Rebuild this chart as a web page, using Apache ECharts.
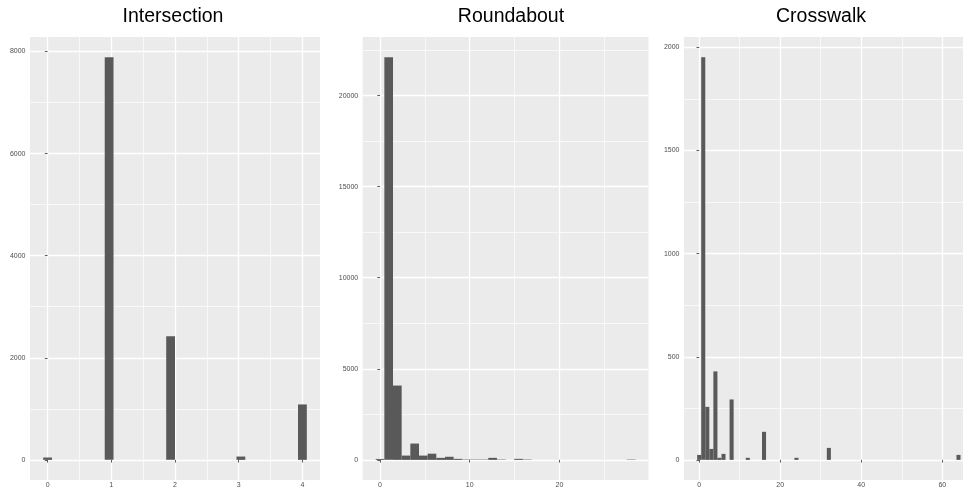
<!DOCTYPE html>
<html>
<head>
<meta charset="utf-8">
<script src="https://cdn.jsdelivr.net/npm/echarts@6/dist/echarts.min.js"></script>
<style>
  html, body { margin: 0; padding: 0; background: #ffffff; }
  #chart { width: 963px; height: 495px; }
</style>
</head>
<body>
<div id="chart"></div>
<script>
// Panel titles
const panelTitles = ['Intersection', 'Roundabout', 'Crosswalk'];

// Intersection: histogram bin centres and counts
const intersectionBins = [0, 0.966, 1.931, 3.034, 4];
const intersectionCounts = [46, 7890, 2420, 65, 1086];
const intersectionBinWidth = 0.138;
const intersectionXTicks = [0, 1, 2, 3, 4];
const intersectionYTicks = [0, 2000, 4000, 6000, 8000];

// Roundabout: histogram bin centres and counts (empty bins omitted)
const roundaboutBins = [0, 0.966, 1.931, 2.897, 3.862, 4.828, 5.793, 6.759, 7.724,
  8.690, 9.655, 10.621, 11.586, 12.552, 13.517, 15.448, 16.414, 28.0];
const roundaboutCounts = [50, 22110, 4080, 235, 895, 235, 340, 110, 170,
  55, 20, 20, 20, 110, 20, 55, 20, 20];
const roundaboutBinWidth = 0.9655;
const roundaboutXTicks = [0, 10, 20];
const roundaboutYTicks = [0, 5000, 10000, 15000, 20000];

// Crosswalk: histogram bin centres and counts (empty bins omitted)
const crosswalkBins = [0, 1, 2, 3, 4, 5, 6, 8, 12, 16, 24, 32, 64];
const crosswalkCounts = [24, 1953, 257, 53, 429, 10, 29, 293, 10, 136, 10, 58, 24];
const crosswalkBinWidth = 1;
const crosswalkXTicks = [0, 20, 40, 60];
const crosswalkYTicks = [0, 500, 1000, 1500, 2000];

// Panel rectangles; `full` is the panel's natural width, the drawn part may be cut by the page edge
const panels = [
  { bins: intersectionBins, counts: intersectionCounts, w: intersectionBinWidth,
    xTicks: intersectionXTicks, yTicks: intersectionYTicks,
    grid: { left: 30, top: 37, width: 290, height: 443 }, full: 290, titleX: 173, split: 5 },
  { bins: roundaboutBins, counts: roundaboutCounts, w: roundaboutBinWidth,
    xTicks: roundaboutXTicks, yTicks: roundaboutYTicks,
    grid: { left: 362.7, top: 37, width: 285.8, height: 443 }, full: 285.8, titleX: 511, split: 3 },
  { bins: crosswalkBins, counts: crosswalkCounts, w: crosswalkBinWidth,
    xTicks: crosswalkXTicks, yTicks: crosswalkYTicks,
    grid: { left: 684, top: 37, width: 279, height: 443 }, full: 289.7, titleX: 821, split: 4 }
];

const fontFamily = 'Liberation Sans, Arial, Helvetica, sans-serif';
const panelFill = '#EBEBEB';
const barFill = '#595959';
const tickText = '#4D4D4D';
const tickLine = '#333333';

const grids = [], xAxes = [], yAxes = [], series = [], titles = [];

function axisCommon(ticks, isX) {
  return {
    axisLine: { show: false },
    axisTick: { show: true, length: 2.7, lineStyle: { color: tickLine, width: 0.8 }, customValues: ticks },
    axisLabel: {
      customValues: ticks,
      fontFamily: fontFamily,
      fontSize: 7,
      color: tickText,
      margin: isX ? 1.8 : 4.5,
      formatter: v => (ticks.indexOf(v) >= 0 ? String(v) : '')
    },
    splitLine: { show: true, lineStyle: { color: '#FFFFFF', width: 1.3 } },
    minorTick: { show: false, splitNumber: 2 },
    minorSplitLine: { show: true, lineStyle: { color: '#FFFFFF', width: 0.65 } }
  };
}

panels.forEach((p, i) => {
  // 5% expansion around the bin extent and the count range
  const lo = Math.min(...p.bins) - p.w / 2;
  const hi = Math.max(...p.bins) + p.w / 2;
  const padX = (hi - lo) * 0.05;
  const xMin = lo - padX;
  const xMaxFull = hi + padX;
  const xMax = xMin + (xMaxFull - xMin) * (p.grid.width / p.full);
  const yMax = Math.max(...p.counts);
  const padY = yMax * 0.05;

  grids.push(Object.assign({ show: true, backgroundColor: panelFill, borderWidth: 0 }, p.grid));

  xAxes.push(Object.assign({
    type: 'value', gridIndex: i, min: xMin, max: xMax, splitNumber: p.split
  }, axisCommon(p.xTicks, true)));

  yAxes.push(Object.assign({
    type: 'value', gridIndex: i, min: -padY, max: yMax + padY, splitNumber: 5
  }, axisCommon(p.yTicks, false)));

  const w = p.w;
  series.push({
    type: 'custom',
    xAxisIndex: i,
    yAxisIndex: i,
    silent: true,
    clip: false,
    data: p.bins.map((b, k) => [b, p.counts[k]]),
    encode: { x: 0, y: 1 },
    renderItem: (params, api) => {
      const c = api.value(0), v = api.value(1);
      const p0 = api.coord([c - w / 2, v]);
      const p1 = api.coord([c + w / 2, 0]);
      return {
        type: 'rect',
        shape: { x: p0[0], y: p0[1], width: p1[0] - p0[0], height: p1[1] - p0[1] },
        style: { fill: barFill, stroke: null, lineWidth: 0 }
      };
    }
  });

  titles.push({
    text: panelTitles[i],
    left: p.titleX,
    top: 6.5,
    padding: 0,
    textAlign: 'center',
    textStyle: { fontFamily: fontFamily, fontSize: 19.5, fontWeight: 'normal', color: '#000000' }
  });
});

const chart = echarts.init(document.getElementById('chart'), null, { renderer: 'canvas' });
chart.setOption({
  animation: false,
  backgroundColor: '#ffffff',
  title: titles,
  grid: grids,
  xAxis: xAxes,
  yAxis: yAxes,
  series: series
});
</script>
</body>
</html>
